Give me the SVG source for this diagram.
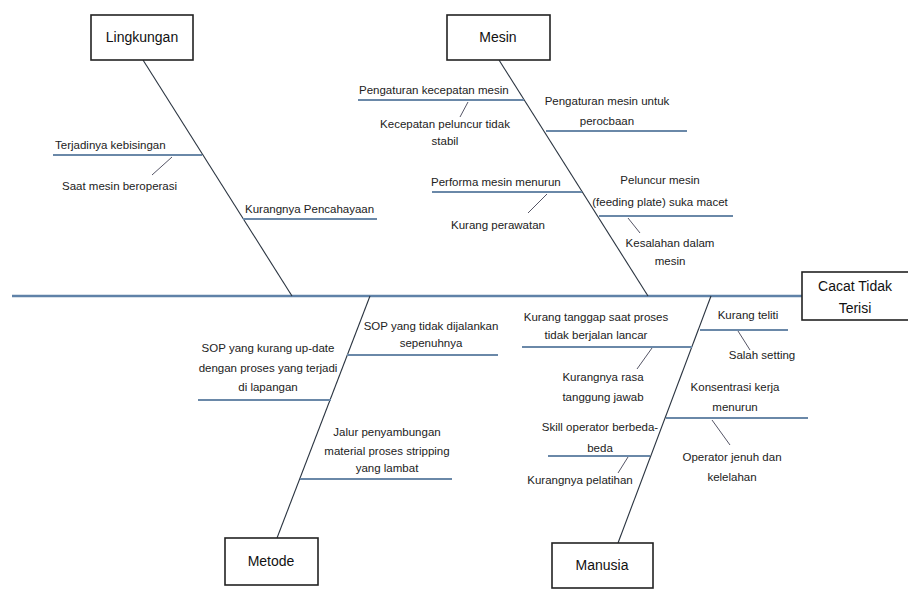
<svg xmlns="http://www.w3.org/2000/svg" width="908" height="592" viewBox="0 0 908 592">
<style>
text{font-family:"Liberation Sans",Arial,sans-serif;font-size:11.5px;fill:#222}
.lbl{font-size:14px;text-anchor:middle;fill:#111}
.m{text-anchor:middle}
.box{fill:#fff;stroke:#222;stroke-width:1.6}
.spine{stroke:#5f82a8;stroke-width:2.5;fill:none}
.bone{stroke:#2a3440;stroke-width:1.1;fill:none}
.br{stroke:#6a88a8;stroke-width:2;fill:none}
.sub{stroke:#556;stroke-width:1;fill:none}
</style>
<rect width="908" height="592" fill="#fff"/>
<g id="connectors">
<line class="spine" x1="12" y1="296" x2="802" y2="296"/>
<line class="bone" x1="143" y1="60" x2="292" y2="296"/>
<line class="bone" x1="499" y1="60" x2="648" y2="296"/>
<line class="bone" x1="277" y1="538" x2="370" y2="296"/>
<line class="bone" x1="618" y1="543" x2="711" y2="296"/>
<line class="br" x1="53" y1="155" x2="202" y2="155"/>
<line class="sub" x1="172" y1="157" x2="152" y2="175"/>
<line class="br" x1="243" y1="219" x2="377" y2="219"/>
<line class="br" x1="358" y1="100" x2="524" y2="100"/>
<line class="sub" x1="468" y1="102" x2="460" y2="117"/>
<line class="br" x1="546" y1="131" x2="687" y2="131"/>
<line class="br" x1="432" y1="192" x2="582" y2="192"/>
<line class="sub" x1="547" y1="194" x2="528" y2="213"/>
<line class="br" x1="599" y1="216" x2="733" y2="216"/>
<line class="sub" x1="628" y1="218" x2="640" y2="233"/>
<line class="br" x1="347" y1="355" x2="498" y2="355"/>
<line class="br" x1="198" y1="400" x2="331" y2="400"/>
<line class="br" x1="300" y1="479" x2="452" y2="479"/>
<line class="br" x1="522" y1="347" x2="692" y2="347"/>
<line class="sub" x1="652" y1="348" x2="637" y2="369"/>
<line class="br" x1="700" y1="330" x2="788" y2="330"/>
<line class="sub" x1="738" y1="331" x2="750" y2="350"/>
<line class="br" x1="666" y1="418" x2="808" y2="418"/>
<line class="sub" x1="712" y1="420" x2="730" y2="445"/>
<line class="br" x1="548" y1="456" x2="650" y2="456"/>
<line class="sub" x1="628" y1="457" x2="618" y2="473"/>
</g>
<g id="effect">
<rect class="box" x="802" y="272" width="110" height="48"/>
<text class="lbl" x="855" y="291">Cacat Tidak</text>
<text class="lbl" x="855" y="313">Terisi</text>
</g>
<g id="lingkungan">
<rect class="box" x="91" y="15" width="102" height="45"/>
<text class="lbl" x="142" y="42">Lingkungan</text>
<text x="55" y="149">Terjadinya kebisingan</text>
<text x="62" y="190">Saat mesin beroperasi</text>
<text x="245" y="213">Kurangnya Pencahayaan</text>
</g>
<g id="mesin">
<rect class="box" x="447" y="15" width="103" height="45"/>
<text class="lbl" x="498" y="42">Mesin</text>
<text x="359" y="94">Pengaturan kecepatan mesin</text>
<text class="m" x="445" y="128">Kecepatan peluncur tidak</text>
<text class="m" x="445" y="145">stabil</text>
<text class="m" x="607" y="105">Pengaturan mesin untuk</text>
<text class="m" x="607" y="125">perocbaan</text>
<text x="431" y="186">Performa mesin menurun</text>
<text class="m" x="498" y="229">Kurang perawatan</text>
<text class="m" x="660" y="184">Peluncur mesin</text>
<text class="m" x="660" y="206">(feeding plate) suka macet</text>
<text class="m" x="670" y="247">Kesalahan dalam</text>
<text class="m" x="670" y="265">mesin</text>
</g>
<g id="metode">
<rect class="box" x="225" y="538" width="93" height="47"/>
<text class="lbl" x="271" y="566">Metode</text>
<text class="m" x="431" y="330">SOP yang tidak dijalankan</text>
<text class="m" x="431" y="347">sepenuhnya</text>
<text class="m" x="268" y="352">SOP yang kurang up-date</text>
<text class="m" x="268" y="372">dengan proses yang terjadi</text>
<text class="m" x="268" y="391">di lapangan</text>
<text class="m" x="387" y="436">Jalur penyambungan</text>
<text class="m" x="387" y="455">material proses stripping</text>
<text class="m" x="387" y="472">yang lambat</text>
</g>
<g id="manusia">
<rect class="box" x="552" y="543" width="101" height="45"/>
<text class="lbl" x="602" y="570">Manusia</text>
<text class="m" x="596" y="321">Kurang tanggap saat proses</text>
<text class="m" x="596" y="339">tidak berjalan lancar</text>
<text class="m" x="603" y="381">Kurangnya rasa</text>
<text class="m" x="603" y="401">tanggung jawab</text>
<text class="m" x="748" y="319">Kurang teliti</text>
<text class="m" x="762" y="359">Salah setting</text>
<text class="m" x="735" y="391">Konsentrasi kerja</text>
<text class="m" x="735" y="411">menurun</text>
<text class="m" x="732" y="461">Operator jenuh dan</text>
<text class="m" x="732" y="481">kelelahan</text>
<text class="m" x="600" y="431">Skill operator berbeda-</text>
<text class="m" x="600" y="452">beda</text>
<text class="m" x="580" y="484">Kurangnya pelatihan</text>
</g>
</svg>
